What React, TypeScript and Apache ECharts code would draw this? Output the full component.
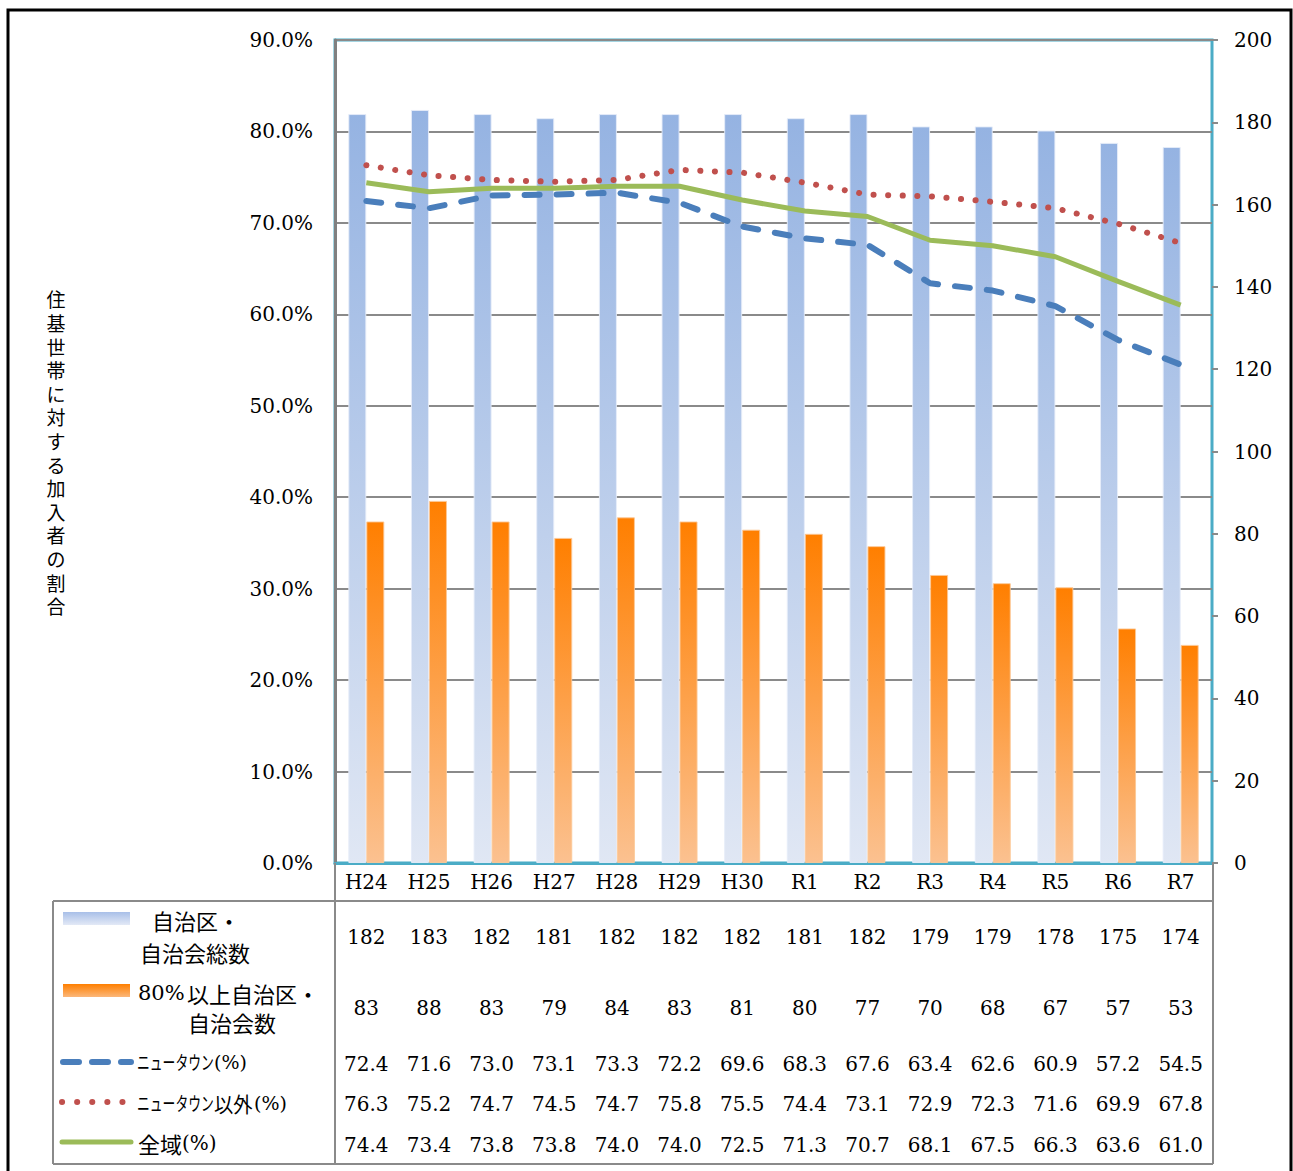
import React, { useEffect, useRef } from "react";
import * as echarts from "echarts";

// ---------------- data ----------------
const categories = ["H24", "H25", "H26", "H27", "H28", "H29", "H30", "R1", "R2", "R3", "R4", "R5", "R6", "R7"];
const totalAssoc = [182, 183, 182, 181, 182, 182, 182, 181, 182, 179, 179, 178, 175, 174];
const over80Assoc = [83, 88, 83, 79, 84, 83, 81, 80, 77, 70, 68, 67, 57, 53];
const newTown = [72.4, 71.6, 73.0, 73.1, 73.3, 72.2, 69.6, 68.3, 67.6, 63.4, 62.6, 60.9, 57.2, 54.5];
const nonNewTown = [76.3, 75.2, 74.7, 74.5, 74.7, 75.8, 75.5, 74.4, 73.1, 72.9, 72.3, 71.6, 69.9, 67.8];
const wholeArea = [74.4, 73.4, 73.8, 73.8, 74.0, 74.0, 72.5, 71.3, 70.7, 68.1, 67.5, 66.3, 63.6, 61.0];
const leftAxisMax = 90;
const leftAxisInterval = 10;
const rightAxisMax = 200;
const rightAxisInterval = 20;
const yAxisTitle = "住基世帯に対する加入者の割合";
const seriesNames = ["自治区・自治会総数", "80%以上自治区・自治会数", "ニュータウン(%)", "ニュータウン以外(%)", "全域(%)"];

// ---------------- layout ----------------
const W = 1293;
const H = 1171;
const GL = 335; // grid left
const GR = 1212; // grid right x
const GT = 40;
const GB = 863;
const TABLE_LEFT = 53;
const TABLE_HLINE = 901;
const TABLE_BOTTOM = 1164;
const rowCenters = [937, 1008, 1064, 1104, 1145];

const SERIF = "DejaVu Serif";
const JP = "Noto Sans CJK JP";
const GRAY = "#8a8a8a";
const TEAL = "#4bacc6";

const BLUE_LINE = "#4a7ebb";
const RED_LINE = "#c0504d";
const GREEN_LINE = "#9bbb59";

const blueGrad = () =>
  new echarts.graphic.LinearGradient(0, 0, 0, 1, [
    { offset: 0, color: "#95b3e2" },
    { offset: 1, color: "#e0e7f4" },
  ]);
const orangeGrad = () =>
  new echarts.graphic.LinearGradient(0, 0, 0, 1, [
    { offset: 0, color: "#ff7f00" },
    { offset: 1, color: "#fbc190" },
  ]);

export default function App() {
  const ref = useRef<HTMLDivElement>(null);

  useEffect(() => {
    document.body.style.margin = "0";
    const chart = echarts.init(ref.current!, null, { renderer: "svg" });

    const tableRows: string[][] = [
      totalAssoc.map(String),
      over80Assoc.map(String),
      newTown.map((v) => v.toFixed(1)),
      nonNewTown.map((v) => v.toFixed(1)),
      wholeArea.map((v) => v.toFixed(1)),
    ];

    const grids: any[] = [
      { left: GL, top: GT, width: GR - GL, height: GB - GT, show: true, borderColor: TEAL, borderWidth: 3, backgroundColor: "transparent" },
    ];
    const xAxes: any[] = [
      {
        type: "category",
        gridIndex: 0,
        data: categories,
        axisLine: { show: true, lineStyle: { color: TEAL, width: 3 } },
        axisTick: { show: false },
        axisLabel: { color: "#000", fontFamily: SERIF, fontSize: 20, margin: 9, interval: 0 },
      },
    ];
    const yAxes: any[] = [
      {
        type: "value",
        gridIndex: 0,
        min: 0,
        max: leftAxisMax,
        interval: leftAxisInterval,
        axisLine: { show: true, lineStyle: { color: "#808080", width: 3 } },
        axisTick: { show: false },
        splitLine: { show: true, lineStyle: { color: GRAY, width: 2 } },
        axisLabel: {
          color: "#000",
          fontFamily: SERIF,
          fontSize: 20,
          margin: 22,
          formatter: (v: number) => v.toFixed(1) + "%",
        },
      },
      {
        type: "value",
        gridIndex: 0,
        position: "right",
        min: 0,
        max: rightAxisMax,
        interval: rightAxisInterval,
        axisLine: { show: false },
        axisTick: { show: true, length: 6, lineStyle: { color: GRAY, width: 2 } },
        splitLine: { show: false },
        axisLabel: { color: "#000", fontFamily: SERIF, fontSize: 20, margin: 22 },
      },
    ];

    tableRows.forEach((row, i) => {
      const gi = i + 1;
      grids.push({ left: GL, top: rowCenters[i] - 1, width: GR - GL, height: 1, show: false });
      xAxes.push({
        type: "category",
        gridIndex: gi,
        data: row,
        position: "bottom",
        axisLine: { show: false },
        axisTick: { show: false },
        splitLine: { show: false },
        axisLabel: {
          color: "#000",
          fontFamily: SERIF,
          fontSize: 20,
          margin: 0,
          interval: 0,
          verticalAlign: "middle",
        },
      });
      yAxes.push({ type: "value", gridIndex: gi, show: false, splitLine: { show: false } });
    });

    const tableLine = (x1: number, y1: number, x2: number, y2: number) => ({
      type: "line",
      silent: true,
      z: 10,
      shape: { x1, y1, x2, y2 },
      style: { stroke: GRAY, lineWidth: 2 },
    });

    const txt = (text: string, x: number, y: number, fontSize: number, fontFamily: string, extra: any = {}) => ({
      type: "text",
      silent: true,
      x,
      y,
      ...extra,
      style: {
        text,
        fill: "#000",
        fontSize,
        fontFamily,
        align: "left",
        verticalAlign: "middle",
        ...(extra.style || {}),
      },
    });

    const graphic: any[] = [
      // outer frame
      {
        type: "rect",
        silent: true,
        shape: { x: 8, y: 10, width: 1283, height: 1200 },
        style: { fill: "none", stroke: "#000", lineWidth: 3 },
      },
      // y axis title (vertical)
      {
        type: "text",
        silent: true,
        x: 56,
        y: 287,
        style: {
          text: yAxisTitle.split("").join("\n"),
          fill: "#000",
          fontSize: 19,
          fontFamily: JP,
          lineHeight: 23.6,
          align: "center",
          verticalAlign: "top",
        },
      },
      // table frame
      tableLine(GL, GB, GL, TABLE_BOTTOM),
      tableLine(GR + 1, GB, GR + 1, TABLE_BOTTOM),
      tableLine(TABLE_LEFT, TABLE_HLINE, GR + 1, TABLE_HLINE),
      tableLine(TABLE_LEFT, TABLE_HLINE, TABLE_LEFT, TABLE_BOTTOM),
      tableLine(TABLE_LEFT, TABLE_BOTTOM, GR + 1, TABLE_BOTTOM),
      // legend swatches
      {
        type: "rect",
        silent: true,
        shape: { x: 63, y: 912, width: 67, height: 13 },
        style: {
          fill: new echarts.graphic.LinearGradient(0, 0, 0, 1, [
            { offset: 0, color: "#a8bfe8" },
            { offset: 1, color: "#e3e9f6" },
          ]),
        },
      },
      {
        type: "rect",
        silent: true,
        shape: { x: 63, y: 984, width: 67, height: 13 },
        style: {
          fill: new echarts.graphic.LinearGradient(0, 0, 0, 1, [
            { offset: 0, color: "#ff7f00" },
            { offset: 1, color: "#fbb77a" },
          ]),
        },
      },
      {
        type: "line",
        silent: true,
        shape: { x1: 63, y1: 1062, x2: 131, y2: 1062 },
        style: { stroke: BLUE_LINE, lineWidth: 6, lineDash: [16, 13], lineCap: "round" },
      },
      {
        type: "line",
        silent: true,
        shape: { x1: 62, y1: 1102, x2: 124, y2: 1102 },
        style: { stroke: RED_LINE, lineWidth: 6, lineDash: [0.1, 15], lineCap: "round" },
      },
      {
        type: "line",
        silent: true,
        shape: { x1: 62, y1: 1142, x2: 131, y2: 1142 },
        style: { stroke: GREEN_LINE, lineWidth: 5, lineCap: "round" },
      },
      // legend labels
      txt("自治区・", 152, 920, 22, JP),
      txt("自治会総数", 140, 952, 22, JP),
      txt("80%", 138, 993, 21, SERIF),
      txt("以上自治区・", 187, 993, 22, JP),
      txt("自治会数", 188, 1022, 22, JP),
      txt("ニュータウン", 137, 1062, 19, JP, { scaleX: 0.675 }),
      txt("(%)", 214, 1062, 19, SERIF),
      txt("ニュータウン", 137, 1103, 19, JP, { scaleX: 0.675 }),
      txt("以外", 214, 1103, 21, JP, { scaleX: 0.92 }),
      txt("(%)", 254, 1103, 19, SERIF),
      txt("全域", 138, 1143, 22, JP),
      txt("(%)", 182, 1143, 20, SERIF),
    ];

    chart.setOption({
      animation: false,
      backgroundColor: "#fff",
      grid: grids,
      xAxis: xAxes,
      yAxis: yAxes,
      graphic,
      series: [
        {
          name: seriesNames[0],
          type: "bar",
          xAxisIndex: 0,
          yAxisIndex: 1,
          data: totalAssoc,
          barWidth: 18,
          barGap: "0%",
          itemStyle: { color: blueGrad(), borderColor: "rgba(230,236,248,0.9)", borderWidth: 1 },
        },
        {
          name: seriesNames[1],
          type: "bar",
          xAxisIndex: 0,
          yAxisIndex: 1,
          data: over80Assoc,
          barWidth: 18,
          barGap: "0%",
          itemStyle: { color: orangeGrad(), borderColor: "rgba(252,200,150,0.9)", borderWidth: 1 },
        },
        {
          name: seriesNames[2],
          type: "line",
          xAxisIndex: 0,
          yAxisIndex: 0,
          data: newTown,
          symbol: "none",
          z: 5,
          lineStyle: { color: BLUE_LINE, width: 6, type: [15, 17], cap: "round" },
        },
        {
          name: seriesNames[3],
          type: "line",
          xAxisIndex: 0,
          yAxisIndex: 0,
          data: nonNewTown,
          symbol: "none",
          z: 5,
          lineStyle: { color: RED_LINE, width: 6, type: [0.1, 14.5], cap: "round" },
        },
        {
          name: seriesNames[4],
          type: "line",
          xAxisIndex: 0,
          yAxisIndex: 0,
          data: wholeArea,
          symbol: "none",
          z: 5,
          lineStyle: { color: GREEN_LINE, width: 5 },
        },
      ],
    });

    return () => chart.dispose();
  }, []);

  return <div ref={ref} style={{ width: W, height: H }} />;
}
